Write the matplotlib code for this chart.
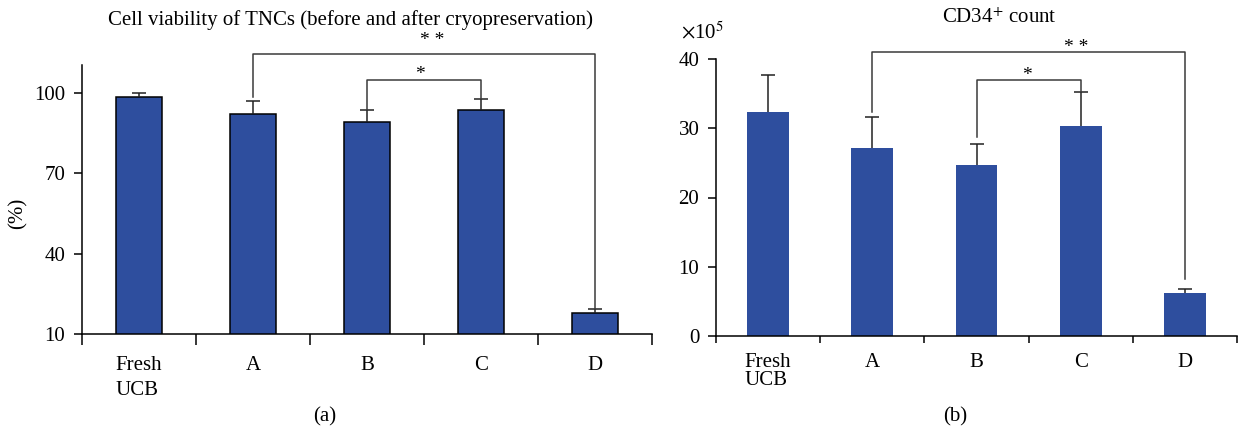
import matplotlib
matplotlib.use("Agg")
import matplotlib.pyplot as plt
import numpy as np

plt.rcParams['font.family'] = ['Liberation Serif', 'DejaVu Serif']
plt.rcParams['mathtext.fontset'] = 'stix'

categories = ['Fresh\nUCB', 'A', 'B', 'C', 'D']
viability = [98.6, 92.2, 89.3, 93.7, 17.7]
viability_sd = [1.5, 4.7, 4.5, 4.0, 1.5]
cd34 = [32.35, 27.15, 24.7, 30.3, 6.2]
cd34_sd = [5.4, 4.5, 3.0, 4.9, 0.6]

blue = '#2e4e9e'
W, H = 1240, 430
FS = 15

fig = plt.figure(figsize=(12.4, 4.3), dpi=100)

def px_axes(x0, x1, ytop, ybot):
    return fig.add_axes([x0 / W, 1 - ybot / H, (x1 - x0) / W, (ybot - ytop) / H])

def bracket(ax, x1, x2, ytop, y1, y2, label, tx, ty):
    ax.plot([x1, x1, x2, x2], [y1, ytop, ytop, y2], color='#3a3a3a', lw=1.1,
            clip_on=False, zorder=4)
    ax.text(tx, ty, label, ha='center', va='center', fontsize=14, clip_on=False)

def upper_errors(ax, x, y, err):
    # only the upper half of each error bar is drawn
    eb = ax.errorbar(x, y, yerr=[np.zeros(len(x)), err], fmt='none',
                     ecolor='#222222', elinewidth=1.1, capsize=5, capthick=1.1,
                     zorder=3)
    eb[1][0].set_visible(False)

def style_axis(ax, ticklen_x, linesp, pad):
    ax.set_xlim(-0.5, len(categories) - 0.5)
    ax.set_xticks(np.arange(len(categories) + 1) - 0.5)
    ax.set_xticklabels([])
    ax.set_xticks(np.arange(len(categories)), minor=True)
    ax.set_xticklabels(categories, minor=True, fontsize=FS, linespacing=linesp,
                       multialignment='left', va='top')
    ax.tick_params(axis='x', which='major', direction='out', length=ticklen_x, width=1.1)
    ax.tick_params(axis='x', which='minor', length=0, pad=pad)
    ax.tick_params(axis='y', direction='out', length=6, width=1.1, labelsize=FS, pad=6)
    for s in ['top', 'right']:
        ax.spines[s].set_visible(False)
    for s in ['left', 'bottom']:
        ax.spines[s].set_linewidth(1.1)

x = np.arange(len(categories))

# (a) cell viability
ax1 = px_axes(82, 652, 65, 334)
ax1.bar(x, viability, width=0.4, color=blue, edgecolor='black',
        linewidth=1.1, zorder=2)
upper_errors(ax1, x, viability, viability_sd)
ax1.set_ylim(10, 110.5)
ax1.set_yticks([10, 40, 70, 100])
style_axis(ax1, 8, 1.4, 16)
bracket(ax1, 1, 4, 114.6, 98.6, 19.2, '* *', 2.57, 119.5)
bracket(ax1, 2, 3, 104.9, 93.8, 97.7, '*', 2.46, 107.1)

# (b) CD34+ count
ax2 = px_axes(716, 1237, 59, 336)
ax2.bar(x, cd34, width=0.4, color=blue, zorder=2)
upper_errors(ax2, x, cd34, cd34_sd)
ax2.set_ylim(0, 40)
ax2.set_yticks([0, 10, 20, 30, 40])
style_axis(ax2, 5, 0.95, 12)
bracket(ax2, 1, 4, 41.05, 32.4, 8.3, '* *', 2.96, 41.6)
bracket(ax2, 2, 3, 37.0, 28.7, 35.2, '*', 2.48, 37.6)
ax2.text(-0.025, 1.094, r'$\times$10$^{5}$', transform=ax2.transAxes,
         ha='center', va='center', fontsize=FS)

fig.text(351 / W, 1 - 20 / H, 'Cell viability of TNCs (before and after cryopreservation)',
         ha='center', va='center', fontsize=FS)
fig.text(999 / W, 1 - 18 / H, r'CD34$^{+}$ count', ha='center', va='center', fontsize=FS)
fig.text(18 / W, 1 - 213 / H, '(%)', rotation=90, ha='center', va='center', fontsize=FS)
fig.text(325 / W, 1 - 417 / H, '(a)', ha='center', va='center', fontsize=FS)
fig.text(955 / W, 1 - 417 / H, '(b)', ha='center', va='center', fontsize=FS)

fig.savefig('out.png', dpi=100)
